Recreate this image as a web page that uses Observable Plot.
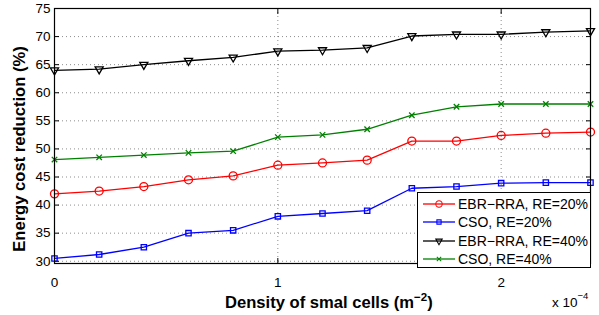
<!DOCTYPE html>
<html><head><meta charset="utf-8">
<script src="https://cdn.jsdelivr.net/npm/d3@7"></script>
<script src="https://cdn.jsdelivr.net/npm/@observablehq/plot@0.6"></script>
<style>
body{margin:0;background:#fff;}
#wrap{position:relative;width:599px;height:315px;font-family:"Liberation Sans",Arial,sans-serif;}
.lab{position:absolute;font-weight:bold;font-size:16.6px;line-height:16px;color:#000;white-space:nowrap;}
.sup{position:relative;vertical-align:baseline;}
#legend{position:absolute;left:417px;top:192px;width:172px;height:74px;border:1px solid #000;background:#fff;font-size:14px;}
#legend .row{position:absolute;left:5px;height:18px;display:flex;align-items:center;}
#legend .row span{margin-left:3px;}
</style></head>
<body><div id="wrap"></div>
<script>
const densities = [0, 0.2, 0.4, 0.6, 0.8, 1.0, 1.2, 1.4, 1.6, 1.8, 2.0, 2.2, 2.4];
const ebr20 = [42.0, 42.5, 43.3, 44.5, 45.2, 47.1, 47.5, 48.0, 51.4, 51.4, 52.4, 52.8, 53.0];
const cso20 = [30.5, 31.2, 32.5, 35.0, 35.5, 38.0, 38.5, 39.0, 43.0, 43.3, 43.9, 44.0, 44.0];
const ebr40 = [64.0, 64.2, 65.0, 65.7, 66.3, 67.4, 67.6, 68.0, 70.1, 70.4, 70.4, 70.8, 71.0];
const cso40 = [48.1, 48.5, 48.9, 49.3, 49.6, 52.1, 52.5, 53.5, 56.0, 57.5, 58.0, 58.0, 58.0];
const seriesNames = ["EBR\u2212RRA, RE=20%", "CSO, RE=20%", "EBR\u2212RRA, RE=40%", "CSO, RE=40%"];
const seriesColors = ["#ff0000", "#0000ff", "#000000", "#008000"];
const seriesSymbols = ["circle", "square", "triangle", "times"];
const seriesRotate = [0, 0, 180, 0];
const seriesR = [4, 3, 3, 2.6];
const xTicks = [0, 1, 2];
const yTicks = [30, 35, 40, 45, 50, 55, 60, 65, 70, 75];

const allSeries = [ebr20, cso20, ebr40, cso40];
const rows = allSeries.flatMap((vals, s) => vals.map((v, i) => ({x: densities[i], y: v, s})));

const marks = [
  Plot.gridY(yTicks, {stroke: "#000", strokeOpacity: 0.45, strokeDasharray: "1,3"}),
  Plot.gridX(xTicks, {stroke: "#000", strokeOpacity: 0.45, strokeDasharray: "1,3"}),
  Plot.axisX(xTicks, {anchor: "bottom", tickSize: 0, tickPadding: 14, label: null, fontSize: 13.5, tickFormat: d3.format("d")}),
  Plot.axisY(yTicks, {anchor: "left", tickSize: 0, tickPadding: 4, label: null, fontSize: 13.5}),
  Plot.axisX(xTicks, {anchor: "bottom", tickSize: -5, text: null, label: null}),
  Plot.axisX(xTicks, {anchor: "top", tickSize: -5, text: null, label: null}),
  Plot.axisY(yTicks, {anchor: "left", tickSize: -5, text: null, label: null}),
  Plot.axisY(yTicks, {anchor: "right", tickSize: -5, text: null, label: null}),
];
allSeries.forEach((vals, s) => {
  const d = rows.filter(r => r.s === s);
  marks.push(Plot.line(d, {x: "x", y: "y", stroke: seriesColors[s], strokeWidth: 1.3}));
  marks.push(Plot.dot(d, {x: "x", y: "y", stroke: seriesColors[s], fill: "none", strokeWidth: 1.3,
    symbol: seriesSymbols[s], r: seriesR[s], rotate: seriesRotate[s]}));
});
marks.push(Plot.frame({stroke: "#000", strokeWidth: 1.2}));

const chart = Plot.plot({
  width: 599, height: 315,
  marginLeft: 54, marginRight: 9, marginTop: 8, marginBottom: 52,
  style: {fontFamily: '"Liberation Sans", Arial, sans-serif', fontSize: "13px", background: "#fff", color: "#000"},
  x: {domain: [0, 2.4]},
  y: {domain: [29.6, 75]},
  marks
});
const wrap = document.getElementById("wrap");
wrap.appendChild(chart);

const xl = document.createElement("div");
xl.className = "lab";
xl.innerHTML = 'Density of smal cells (m<span class="sup" style="font-size:11.5px;top:-7px">\u22122</span>)';
xl.style.left = "225px"; xl.style.top = "295px";
wrap.appendChild(xl);

const yl = document.createElement("div");
yl.className = "lab";
yl.textContent = "Energy cost reduction (%)";
yl.style.left = "20px"; yl.style.top = "149px";
yl.style.transform = "translate(-50%,-50%) rotate(-90deg)";
wrap.appendChild(yl);

const ex = document.createElement("div");
ex.style.cssText = "position:absolute;left:552px;top:296px;font-size:13.5px;line-height:13px;white-space:nowrap;";
ex.innerHTML = 'x 10<span class="sup" style="font-size:9.5px;top:-8px">\u22124</span>';
wrap.appendChild(ex);

const lg = document.createElement("div");
lg.id = "legend";
seriesNames.forEach((name, s) => {
  const row = document.createElement("div");
  row.className = "row";
  row.style.top = (2 + s * 18.3) + "px";
  const sym = d3.symbol().type({circle: d3.symbolCircle, square: d3.symbolSquare, triangle: d3.symbolTriangle, times: d3.symbolTimes}[seriesSymbols[s]]).size(Math.PI * seriesR[s] * seriesR[s])();
  row.innerHTML = `<svg width="32" height="14"><line x1="0" x2="32" y1="7" y2="7" stroke="${seriesColors[s]}" stroke-width="1.3"/><path d="${sym}" transform="translate(16,7) rotate(${seriesRotate[s]}) scale(0.8)" fill="none" stroke="${seriesColors[s]}" stroke-width="1.3"/></svg><span>${name}</span>`;
  lg.appendChild(row);
});
wrap.appendChild(lg);
</script></body></html>
